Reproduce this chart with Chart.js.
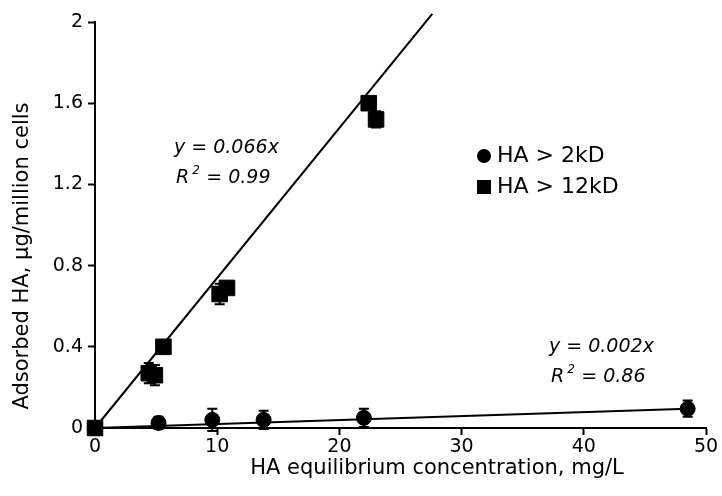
<!DOCTYPE html>
<html>
<head>
<meta charset="utf-8">
<script src="https://cdn.jsdelivr.net/npm/chart.js@4"></script>
<style>
  html, body { margin: 0; padding: 0; background: #fff; }
  #wrap { width: 722px; height: 496px; }
</style>
</head>
<body>
<div id="wrap"><canvas id="c"></canvas></div>
<script>
// data
const xTicks = [0, 10, 20, 30, 40, 50];
const yTicks = [0, 0.4, 0.8, 1.2, 1.6, 2];

const smallX = [0, 5.2, 9.6, 13.8, 22.0, 48.5];
const smallY = [0, 0.025, 0.04, 0.04, 0.05, 0.095];
const smallErr = [0, 0.03, 0.055, 0.045, 0.045, 0.04];

const bigX = [0, 4.4, 4.9, 5.6, 10.2, 10.8, 22.4, 23.0];
const bigY = [0, 0.27, 0.26, 0.40, 0.66, 0.69, 1.60, 1.52];
const bigErr = [0, 0.05, 0.05, 0.03, 0.05, 0.03, 0.03, 0.04];

const fitSmallX = [0, 48.5];
const fitSmallY = [0, 0.095];
const fitBigX = [0, 27.6];
const fitBigY = [0, 2.04];

const font = 'DejaVu Sans, Liberation Sans, sans-serif';

function pts(xs, ys) {
    return xs.map(function (x, i) { return { x: x, y: ys[i] }; });
}

const errorBars = {
    id: 'errorBars',
    afterDatasetsDraw: function (chart) {
        const ctx = chart.ctx;
        const xs = chart.scales.x;
        const ys = chart.scales.y;
        ctx.save();
        ctx.strokeStyle = '#000';
        ctx.lineWidth = 2;
        chart.data.datasets.forEach(function (ds) {
            if (!ds.errors) return;
            ds.data.forEach(function (p, i) {
                const e = ds.errors[i];
                if (!e) return;
                const px = xs.getPixelForValue(p.x);
                const top = ys.getPixelForValue(p.y + e);
                const bot = ys.getPixelForValue(p.y - e);
                ctx.beginPath();
                ctx.moveTo(px, top); ctx.lineTo(px, bot);
                ctx.moveTo(px - 5, top); ctx.lineTo(px + 5, top);
                ctx.moveTo(px - 5, bot); ctx.lineTo(px + 5, bot);
                ctx.stroke();
            });
        });
        ctx.restore();
    }
};

const labels = {
    id: 'labels',
    afterDraw: function (chart) {
        const ctx = chart.ctx;
        ctx.save();
        ctx.fillStyle = '#000';
        ctx.textBaseline = 'middle';
        ctx.textAlign = 'left';

        // fit equations
        function eq(px, py, slope, r2) {
            ctx.font = 'italic 19px ' + font;
            ctx.fillText('y = ' + slope + 'x', px, py);
            ctx.fillText('R', px + 2, py + 30);
            const w = ctx.measureText('R').width;
            ctx.font = 'italic 12px ' + font;
            ctx.fillText('2', px + w + 5, py + 23);
            ctx.font = 'italic 19px ' + font;
            ctx.fillText('= ' + r2, px + w + 19, py + 30);
        }
        eq(174, 148, '0.066', '0.99');
        eq(549, 347, '0.002', '0.86');

        // legend
        ctx.font = '22px ' + font;
        ctx.beginPath();
        ctx.arc(484, 156, 7, 0, Math.PI * 2);
        ctx.fill();
        ctx.fillText('HA > 2kD', 497, 156);
        ctx.fillRect(477, 180, 14, 14);
        ctx.fillText('HA > 12kD', 497, 187);

        // axis titles
        ctx.font = '21px ' + font;
        ctx.textAlign = 'center';
        ctx.fillText('HA equilibrium concentration, mg/L', 437, 469);
        ctx.translate(23, 256);
        ctx.rotate(-Math.PI / 2);
        ctx.fillText('Adsorbed HA, μg/million cells', 0, 0);
        ctx.restore();
    }
};

new Chart(document.getElementById('c'), {
    type: 'scatter',
    data: {
        datasets: [
            {
                label: 'HA > 2kD',
                data: pts(smallX, smallY),
                errors: smallErr,
                pointStyle: 'circle',
                pointRadius: 7.5,
                backgroundColor: '#000',
                borderColor: '#000',
                clip: false
            },
            {
                label: 'HA > 12kD',
                data: pts(bigX, bigY),
                errors: bigErr,
                pointStyle: 'rect',
                pointRadius: 11,
                backgroundColor: '#000',
                borderColor: '#000',
                clip: false
            },
            {
                label: 'fit 2kD',
                type: 'line',
                data: pts(fitSmallX, fitSmallY),
                borderColor: '#000',
                borderWidth: 2,
                pointRadius: 0,
                fill: false
            },
            {
                label: 'fit 12kD',
                type: 'line',
                data: pts(fitBigX, fitBigY),
                borderColor: '#000',
                borderWidth: 2,
                pointRadius: 0,
                fill: false,
                clip: false
            }
        ]
    },
    options: {
        responsive: true,
        maintainAspectRatio: false,
        animation: false,
        layout: { padding: { top: 22, right: 16, left: 0, bottom: 0 } },
        plugins: {
            legend: { display: false },
            tooltip: { enabled: false }
        },
        scales: {
            x: {
                type: 'linear',
                min: 0,
                max: 50,
                afterBuildTicks: function (scale) {
                    scale.ticks = xTicks.map(function (v) { return { value: v }; });
                },
                afterFit: function (scale) { scale.height = 68; },
                grid: {
                    drawOnChartArea: false,
                    color: '#000',
                    tickLength: 7,
                    tickWidth: 2
                },
                border: { color: '#000', width: 2 },
                ticks: {
                    color: '#000',
                    font: { family: font, size: 19 },
                    padding: 1,
                    maxRotation: 0
                }
            },
            y: {
                type: 'linear',
                min: 0,
                max: 2,
                afterBuildTicks: function (scale) {
                    scale.ticks = yTicks.map(function (v) { return { value: v }; });
                },
                afterFit: function (scale) { scale.width = 95; },
                grid: {
                    drawOnChartArea: false,
                    color: '#000',
                    tickLength: 7,
                    tickWidth: 2
                },
                border: { color: '#000', width: 2 },
                ticks: {
                    color: '#000',
                    font: { family: font, size: 19 },
                    padding: 5,
                    callback: function (v) { return String(v); }
                }
            }
        }
    },
    plugins: [errorBars, labels]
});
</script>
</body>
</html>
